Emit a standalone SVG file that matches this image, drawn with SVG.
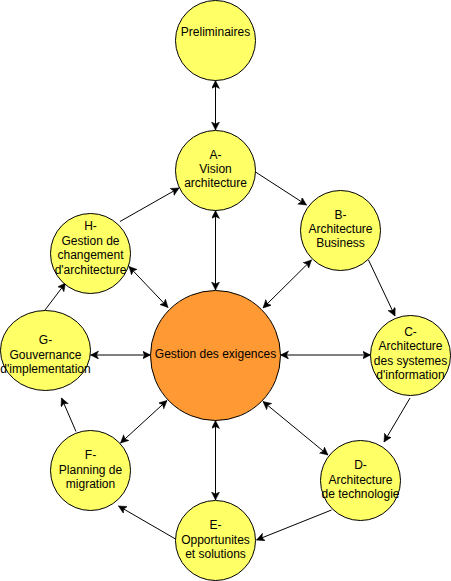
<svg xmlns="http://www.w3.org/2000/svg" width="451" height="581" viewBox="0 0 451 581">
<style>
.n{fill:#FFFF66;stroke:#000;stroke-width:1}
.o{fill:#FF9933;stroke:#000;stroke-width:1}
text{font-family:"Liberation Sans",Arial,sans-serif;font-size:12px;fill:#000;text-anchor:middle}
.c line{stroke:#000;stroke-width:1;fill:none}
.s{marker-end:url(#ah)}
.d{marker-end:url(#ah);marker-start:url(#ah)}
</style>
<defs>
<marker id="ah" markerUnits="userSpaceOnUse" markerWidth="10" markerHeight="10" refX="8" refY="4" orient="auto-start-reverse" viewBox="0 0 10 10">
<path d="M0,0 L8,4 L0,8 L2,4 Z" fill="#000" stroke="#000" stroke-width="0.5"/>
</marker>
</defs>
<rect width="451" height="581" fill="#fff"/>
<g id="connectors" class="c">
<line class="d" x1="215.5" y1="80.5" x2="215.5" y2="130"/>
<line class="s" x1="255.5" y1="172" x2="306.5" y2="205"/>
<line class="s" x1="368.5" y1="260" x2="395" y2="316"/>
<line class="s" x1="410" y1="398" x2="384" y2="442"/>
<line class="s" x1="331.5" y1="510" x2="256.5" y2="540"/>
<line class="s" x1="175.5" y1="539" x2="118.5" y2="506"/>
<line class="s" x1="76" y1="431.5" x2="61.5" y2="398"/>
<line class="s" x1="45" y1="310" x2="65.5" y2="283"/>
<line class="s" x1="120" y1="221.5" x2="179" y2="188"/>
<line class="d" x1="215.5" y1="210.5" x2="215.5" y2="290"/>
<line class="d" x1="311.5" y1="260" x2="263" y2="308"/>
<line class="d" x1="280.5" y1="355" x2="370.5" y2="355"/>
<line class="d" x1="263" y1="401.5" x2="328" y2="455"/>
<line class="d" x1="215.5" y1="420.5" x2="215.5" y2="500"/>
<line class="d" x1="167" y1="400.5" x2="120.5" y2="443"/>
<line class="d" x1="90.5" y1="355" x2="150.5" y2="355"/>
<line class="d" x1="129" y1="266.5" x2="168" y2="307.5"/>
</g>
<g id="preliminaires"><circle class="n" cx="215.5" cy="40.5" r="40"/><text x="215.5" y="36">Preliminaires</text></g>
<g id="A"><circle class="n" cx="215.5" cy="170.5" r="40"/><text x="215.5" y="158.5"><tspan x="215.5">A-</tspan><tspan x="215.5" dy="14.4">Vision</tspan><tspan x="215.5" dy="14.4">architecture</tspan></text></g>
<g id="B"><circle class="n" cx="340.5" cy="230.5" r="40"/><text x="340.5" y="218.6"><tspan x="340.5">B-</tspan><tspan x="340.5" dy="14.4">Architecture</tspan><tspan x="340.5" dy="14.4">Business</tspan></text></g>
<g id="C"><circle class="n" cx="410.5" cy="355.5" r="40"/><text x="410.5" y="336"><tspan x="410.5">C-</tspan><tspan x="410.5" dy="14.4">Architecture</tspan><tspan x="410.5" dy="14.4">des systemes</tspan><tspan x="410.5" dy="14.4">d'information</tspan></text></g>
<g id="D"><circle class="n" cx="360.5" cy="480.5" r="40"/><text x="360.5" y="469.3"><tspan x="360.5">D-</tspan><tspan x="360.5" dy="14.4">Architecture</tspan><tspan x="360.5" dy="14.4">de technologie</tspan></text></g>
<g id="E"><circle class="n" cx="215.5" cy="540.5" r="40"/><text x="215.5" y="529.3"><tspan x="215.5">E-</tspan><tspan x="215.5" dy="14.4">Opportunites</tspan><tspan x="215.5" dy="14.4">et solutions</tspan></text></g>
<g id="F"><circle class="n" cx="90.5" cy="470.5" r="40"/><text x="90.5" y="459.3"><tspan x="90.5">F-</tspan><tspan x="90.5" dy="14.4">Planning de</tspan><tspan x="90.5" dy="14.4">migration</tspan></text></g>
<g id="G"><ellipse class="n" cx="45.5" cy="350.5" rx="45" ry="40"/><text x="45.5" y="344.3"><tspan x="45.5">G-</tspan><tspan x="45.5" dy="14.4">Gouvernance</tspan><tspan x="45.5" dy="14.4">d'implementation</tspan></text></g>
<g id="H"><circle class="n" cx="90.5" cy="253.5" r="40"/><text x="90.5" y="230.3"><tspan x="90.5">H-</tspan><tspan x="90.5" dy="14.4">Gestion de</tspan><tspan x="90.5" dy="14.4">changement</tspan><tspan x="90.5" dy="14.4">d'architecture</tspan></text></g>
<g id="exigences"><circle class="o" cx="215.5" cy="355.5" r="65"/><text x="215.5" y="358.3">Gestion des exigences</text></g>
</svg>
